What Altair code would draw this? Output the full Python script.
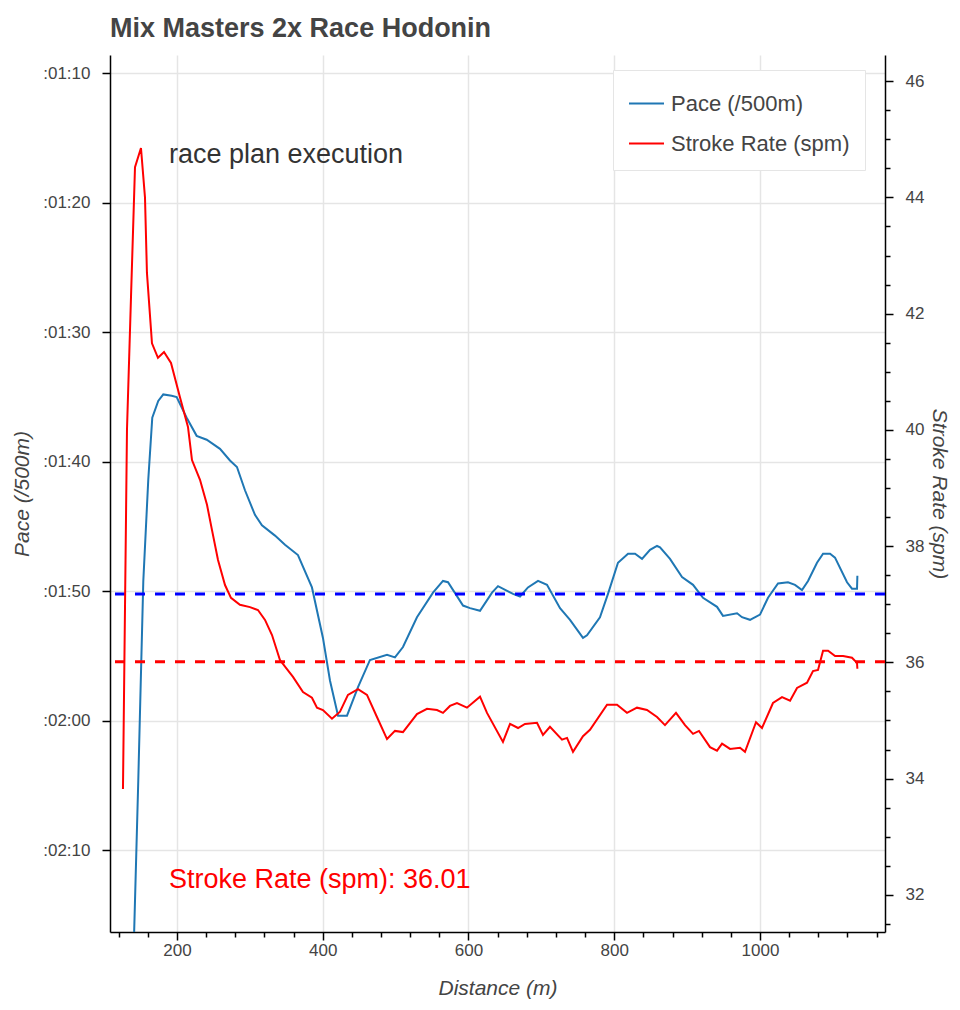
import altair as alt
import pandas as pd

# ---- data ----
pace_dist = [125.9, 146.9, 153.8, 160.6, 166.1, 174.3, 181.2, 192.7, 199.6, 213.3, 227.0, 240.8,
             259.0, 272.7, 282.3, 293.3, 307.0, 316.6, 334.5, 348.2, 366.0, 385.2, 400.3, 410.0,
             421.0, 433.3, 448.4, 464.8, 488.2, 499.1, 510.1, 529.3, 551.3, 565.0, 571.9, 592.5,
             602.1, 615.8, 632.3, 640.5, 661.1, 670.7, 681.6, 695.4, 707.7, 725.6, 739.3, 757.1,
             762.6, 780.4, 791.4, 805.1, 818.9, 828.5, 838.1, 849.1, 858.7, 862.8, 876.5, 893.0,
             908.1, 921.8, 941.0, 949.2, 968.5, 975.3, 986.3, 1000.0, 1011.0, 1024.7, 1038.4,
             1048.0, 1057.6, 1065.9, 1078.2, 1086.5, 1096.1, 1102.9, 1119.4, 1126.2, 1133.1, 1133.6]
pace_sec = [168.0, 124.6, 109.2, 101.4, 96.6, 95.3, 94.8, 94.9, 95.0, 96.6, 98.0, 98.3,
            99.0, 99.9, 100.4, 102.2, 104.1, 104.9, 105.7, 106.4, 107.2, 109.7, 113.6, 116.9,
            119.6, 119.6, 117.4, 115.3, 114.9, 115.1, 114.3, 112.0, 110.1, 109.2, 109.3, 111.1,
            111.3, 111.5, 110.1, 109.6, 110.2, 110.4, 109.7, 109.2, 109.5, 111.3, 112.2, 113.6,
            113.4, 112.0, 110.2, 107.8, 107.1, 107.1, 107.5, 106.8, 106.5, 106.6, 107.5, 108.9,
            109.5, 110.5, 111.2, 111.9, 111.7, 112.0, 112.2, 111.8, 110.5, 109.4, 109.3,
            109.5, 109.9, 109.2, 107.8, 107.1, 107.1, 107.4, 109.3, 109.8, 109.8, 108.8]

spm_dist = [125.9, 131.4, 136.9, 142.4, 150.6, 156.1, 158.8, 165.7, 173.9, 182.2, 191.8, 204.1,
            215.1, 220.6, 231.6, 241.2, 248.0, 256.3, 265.9, 274.1, 286.4, 300.2, 311.1, 320.8,
            330.4, 341.3, 359.2, 372.9, 385.2, 392.1, 400.3, 412.7, 423.7, 434.6, 448.4, 460.7,
            474.4, 488.2, 499.1, 510.1, 529.3, 543.1, 556.8, 565.0, 574.6, 584.2, 597.9, 615.8,
            625.4, 647.3, 657.0, 668.0, 677.5, 694.0, 702.2, 711.8, 728.3, 735.2, 743.4, 757.1,
            766.7, 790.1, 803.8, 817.5, 831.2, 844.9, 858.7, 869.6, 884.7, 897.1, 908.1, 916.3,
            931.4, 941.0, 947.9, 958.9, 972.6, 979.4, 994.5, 1002.7, 1017.8, 1030.2, 1041.2,
            1050.8, 1064.5, 1072.7, 1079.6, 1086.5, 1093.4, 1103.0, 1114.0, 1126.2, 1133.1, 1133.6]
spm_val = [33.82, 40.00, 42.28, 44.52, 44.85, 44.00, 42.70, 41.49, 41.24, 41.34, 41.15, 40.56,
           40.05, 39.48, 39.14, 38.71, 38.28, 37.76, 37.33, 37.11, 36.99, 36.95, 36.90, 36.73,
           36.47, 36.04, 35.75, 35.49, 35.39, 35.22, 35.18, 35.03, 35.15, 35.44, 35.54, 35.44,
           35.06, 34.68, 34.82, 34.80, 35.11, 35.20, 35.18, 35.13, 35.25, 35.30, 35.22, 35.41,
           35.13, 34.63, 34.94, 34.87, 34.94, 34.96, 34.75, 34.89, 34.67, 34.70, 34.46, 34.73,
           34.84, 35.27, 35.27, 35.13, 35.22, 35.18, 35.06, 34.92, 35.13, 34.92, 34.77, 34.82,
           34.54, 34.48, 34.60, 34.51, 34.53, 34.46, 34.97, 34.87, 35.30, 35.40, 35.34,
           35.56, 35.65, 35.85, 35.87, 36.20, 36.20, 36.11, 36.11, 36.08, 35.99, 35.89]

series_names = ["Pace (/500m)", "Stroke Rate (spm)"]
series_colors = ["#1f77b4", "#ff0000"]
avg_pace = 110.2
avg_spm = 36.01

pace_ticks = [70, 80, 90, 100, 110, 120, 130]
spm_ticks = [31.5 + 0.5 * i for i in range(30)]
dist_ticks = [120 + 40 * i for i in range(27)]

x_domain = [108.1, 1171.5]
pace_domain = [68.6, 136.3]
spm_domain = [31.36, 46.45]

title_text = "Mix Masters 2x Race Hodonin"
note_text = "race plan execution"
avg_text = "Stroke Rate (spm): " + format(avg_spm, ".2f")

FONT = "Liberation Sans"
GREY = "#444444"

pace_df = pd.DataFrame({"d": pace_dist, "v": pace_sec, "series": series_names[0],
                        "o": list(range(len(pace_dist)))})
spm_df = pd.DataFrame({"d": spm_dist, "v": spm_val, "series": series_names[1],
                       "o": list(range(len(spm_dist)))})

x_enc = alt.X("d:Q", title="Distance (m)",
              scale=alt.Scale(domain=x_domain, nice=False, zero=False),
              axis=alt.Axis(values=dist_ticks, tickCount=200, labelOverlap=False, labelFlush=False,
                            labelExpr="datum.value % 200 === 0 ? datum.value : ''",
                            tickSize={"condition": {"test": "datum.value % 200 === 0", "value": 8}, "value": 5},
                            gridOpacity={"condition": {"test": "datum.value % 200 === 0", "value": 1}, "value": 0},
                            grid=True, titlePadding=19))

color_enc = alt.Color("series:N",
                      scale=alt.Scale(domain=series_names, range=series_colors),
                      legend=alt.Legend(title=None, orient="none", legendX=503, legendY=15,
                                        symbolType="stroke", symbolSize=1225, symbolStrokeWidth=2,
                                        labelFontSize=22, labelFont=FONT, labelColor=GREY,
                                        labelOffset=6, rowPadding=10, padding=15,
                                        fillColor="white", strokeColor="#e5e5e5", labelLimit=400))

pace_y = alt.Y("v:Q", title="Pace (/500m)",
               scale=alt.Scale(domain=pace_domain, nice=False, zero=False, reverse=True),
               axis=alt.Axis(values=pace_ticks, tickCount=100, orient="left", labelOverlap=False,
                             labelFlush=False,
                             labelExpr="':0' + floor(datum.value/60) + ':' + (datum.value % 60 < 10 ? '0' : '') + (datum.value % 60)",
                             tickSize=8, grid=True, labelPadding=12, titlePadding=10))

spm_y = alt.Y("v:Q", title="Stroke Rate (spm)",
              scale=alt.Scale(domain=spm_domain, nice=False, zero=False),
              axis=alt.Axis(values=spm_ticks, tickCount=200, orient="right", grid=False,
                            labelOverlap=False, labelFlush=False, labelPadding=12, titlePadding=5,
                            labelExpr="datum.value % 2 === 0 ? datum.value : ''",
                            tickSize={"condition": {"test": "datum.value % 2 === 0", "value": 8}, "value": 5}))

pace_line = alt.Chart(pace_df).mark_line(clip=True, strokeWidth=2).encode(
    x=x_enc, y=pace_y, color=color_enc, order="o:Q")
pace_rule = alt.Chart(pd.DataFrame({"v": [avg_pace]})).mark_rule(
    color="#0000ff", strokeDash=[10, 10], strokeWidth=3).encode(y=alt.Y("v:Q"))
note = alt.Chart(pd.DataFrame({"d": [189.0], "v": [76.3], "t": [note_text]})).mark_text(
    align="left", baseline="middle", fontSize=27, font=FONT, color="#333333").encode(
    x="d:Q", y="v:Q", text="t:N")

spm_line = alt.Chart(spm_df).mark_line(clip=True, strokeWidth=2).encode(
    x=x_enc, y=spm_y, color=color_enc, order="o:Q")
spm_rule = alt.Chart(pd.DataFrame({"v": [avg_spm]})).mark_rule(
    color="#ff0000", strokeDash=[10, 10], strokeWidth=3).encode(y=alt.Y("v:Q"))
avg_label = alt.Chart(pd.DataFrame({"d": [189.0], "v": [32.26], "t": [avg_text]})).mark_text(
    align="left", baseline="middle", fontSize=27, font=FONT, color="#ff0000").encode(
    x="d:Q", y="v:Q", text="t:N")

pace_group = alt.layer(pace_line, pace_rule, note)
spm_group = alt.layer(spm_line, spm_rule, avg_label)

chart = alt.layer(pace_group, spm_group).resolve_scale(y="independent").properties(
    width=775, height=877,
    title=alt.TitleParams(title_text, anchor="start", frame="group", fontSize=27, font=FONT,
                          fontWeight="bold", color=GREY, offset=12),
    autosize=alt.AutoSizeParams(type="none"),
    padding={"left": 102, "top": 47, "right": 66, "bottom": 68},
).configure_view(stroke=None).configure_axis(
    domainColor="black", domainWidth=1.5, tickColor="black", tickWidth=1.5,
    labelFont=FONT, labelFontSize=17, labelColor=GREY,
    titleFont=FONT, titleFontSize=21, titleFontStyle="italic", titleFontWeight="normal",
    titleColor=GREY, gridColor="#e5e5e5", gridWidth=1.5,
)

chart.save("out.html", embed_options={"renderer": "svg", "actions": False})
